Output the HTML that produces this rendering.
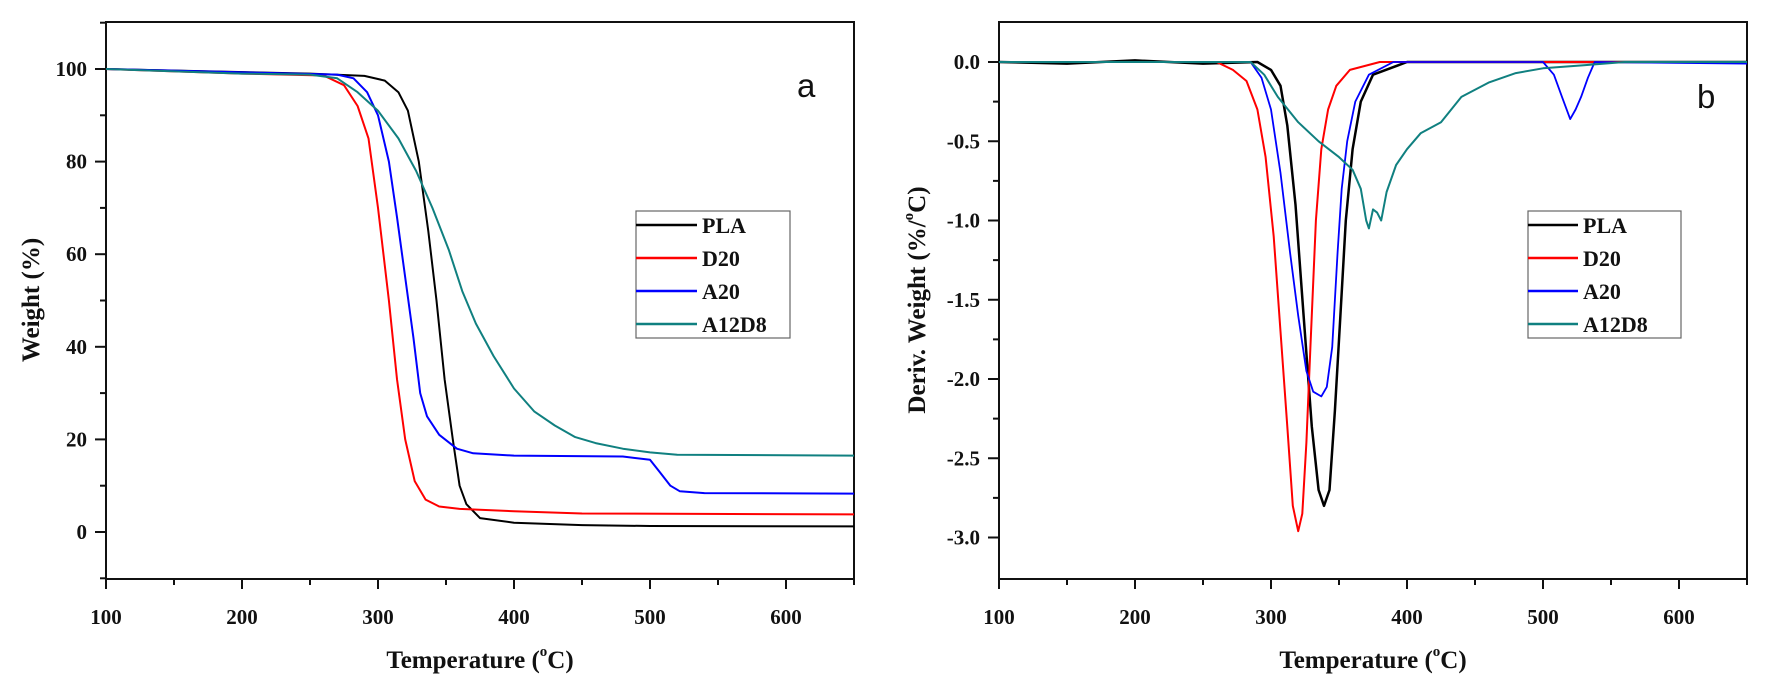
<!DOCTYPE html>
<html><head><meta charset="utf-8"><style>
html,body{margin:0;padding:0;background:#fff;}
svg{display:block;}
text{font-family:"Liberation Serif",serif;font-weight:bold;fill:#111;}
</style></head><body>
<svg id="s" width="1769" height="682" xmlns="http://www.w3.org/2000/svg"></svg>
<script>
const S=document.getElementById('s');let h='';
function X(t,o){return o+(t-100)*1.36;}
const L={x0:106,x1:854,y0:22,y1:579};
const R={x0:999,x1:1747,y0:22,y1:579};
function YL(w){return 532-4.63*w;}
function YR(d){return 62-158.5*d;}
function axes(P,off,yt,yfn){
 h+=`<rect x="${P.x0}" y="${P.y0}" width="${P.x1-P.x0}" height="${P.y1-P.y0}" fill="none" stroke="#111" stroke-width="2"/>`;
 for(let t=100;t<=650;t+=50){let x=X(t,off);h+=`<line x1="${x}" y1="${P.y1}" x2="${x}" y2="${P.y1+(t%100==0?10:6)}" stroke="#111" stroke-width="2"/>`;
  if(t%100==0&&t<=600)h+=`<text x="${x}" y="624" font-size="21" text-anchor="middle">${t}</text>`;}
 yt.forEach(([v,lab,maj])=>{let y=yfn(v);h+=`<line x1="${P.x0-(maj?11:6)}" y1="${y}" x2="${P.x0}" y2="${y}" stroke="#111" stroke-width="2"/>`;
  if(maj)h+=`<text x="${P.x0-19}" y="${y+7}" font-size="21" text-anchor="end">${lab}</text>`;});
}
let ytl=[];for(let v=-10;v<=110;v+=10)ytl.push([v,v,v%20==0]);
axes(L,106,ytl,YL);
let ytr=[];for(let i=-6;i<=0;i++){let v=i*0.5;ytr.push([v,v.toFixed(1),true]);}
for(let i=-6;i<0;i++)ytr.push([i*0.5+0.25,'',false]);
axes(R,999,ytr,YR);
function line(pts,off,yfn,col,w){h+=`<polyline fill="none" stroke="${col}" stroke-width="${w}" stroke-linejoin="round" points="${pts.map(p=>X(p[0],off).toFixed(1)+','+yfn(p[1]).toFixed(1)).join(' ')}"/>`;}
const C={k:'#000',r:'#ff0000',b:'#0000ff',g:'#108080'};
line([[100,100],[250,99],[290,98.5],[305,97.5],[315,95],[322,91],[330,80],[337,65],[343,50],[349,33],[355,20],[360,10],[365,6],[375,3],[400,2],[450,1.5],[500,1.3],[650,1.2]],106,YL,C.k,2);
line([[100,100],[200,99],[260,98.6],[275,96.5],[285,92],[293,85],[300,70],[308,50],[314,33],[320,20],[327,11],[335,7],[345,5.5],[360,5],[400,4.5],[450,4],[650,3.8]],106,YL,C.r,2);
line([[100,100],[270,98.8],[282,98],[292,95],[300,90],[308,80],[314,68],[320,55],[326,42],[331,30],[336,25],[345,21],[358,18],[370,17],[400,16.5],[480,16.3],[500,15.6],[507,13],[515,10],[522,8.8],[540,8.4],[650,8.3]],106,YL,C.b,2);
line([[100,100],[200,99],[250,98.8],[270,98],[285,95],[300,91],[315,85],[328,78],[340,70],[352,61],[362,52],[372,45],[385,38],[400,31],[415,26],[430,23],[445,20.5],[460,19.2],[480,18],[500,17.2],[520,16.7],[650,16.5]],106,YL,C.g,2);
line([[100,0],[150,-0.01],[200,0.01],[250,-0.01],[290,0],[300,-0.05],[307,-0.15],[312,-0.4],[318,-0.9],[324,-1.6],[330,-2.3],[335,-2.7],[339,-2.8],[343,-2.7],[347,-2.2],[351,-1.6],[355,-1.0],[360,-0.55],[366,-0.25],[375,-0.08],[400,0],[650,0]],999,YR,C.k,2.5);
line([[100,0],[260,0],[272,-0.05],[282,-0.12],[290,-0.3],[296,-0.6],[302,-1.1],[307,-1.7],[312,-2.3],[316,-2.8],[320,-2.96],[323,-2.85],[326,-2.4],[329,-1.8],[333,-1.0],[337,-0.55],[342,-0.3],[348,-0.15],[358,-0.05],[380,0],[650,0]],999,YR,C.r,2);
line([[100,0],[285,0],[293,-0.1],[300,-0.3],[307,-0.7],[314,-1.2],[320,-1.6],[326,-1.95],[331,-2.08],[337,-2.11],[341,-2.05],[345,-1.8],[349,-1.2],[352,-0.8],[356,-0.5],[362,-0.25],[372,-0.08],[390,0],[500,0],[508,-0.08],[514,-0.22],[520,-0.36],[524,-0.3],[528,-0.22],[533,-0.1],[538,0],[650,-0.01]],999,YR,C.b,1.8);
line([[100,0],[285,0],[295,-0.08],[305,-0.22],[320,-0.38],[335,-0.5],[350,-0.6],[360,-0.68],[366,-0.8],[370,-1.0],[372,-1.05],[375,-0.93],[378,-0.95],[381,-1.0],[385,-0.82],[392,-0.65],[400,-0.55],[410,-0.45],[425,-0.38],[440,-0.22],[460,-0.13],[480,-0.07],[500,-0.04],[530,-0.02],[560,0],[650,0]],999,YR,C.g,2);
function legend(x0,x1,y0,y1,ll){
 h+=`<rect x="${x0}" y="${y0}" width="${x1-x0}" height="${y1-y0}" fill="#fff" stroke="#666" stroke-width="1.2"/>`;
 const it=[['PLA',C.k],['D20',C.r],['A20',C.b],['A12D8',C.g]];
 it.forEach((e,i)=>{let y=y0+14+i*33;h+=`<line x1="${x0}" y1="${y}" x2="${x0+ll}" y2="${y}" stroke="${e[1]}" stroke-width="2.5"/><text x="${x0+ll+5}" y="${y+8}" font-size="22">${e[0]}</text>`;});
}
legend(636,790,211,338,61);
legend(1528,1681,211,338,50);
h+=`<text x="797" y="97" font-size="33" style="font-family:'Liberation Sans',sans-serif;font-weight:normal">a</text>`;
h+=`<text x="1697" y="108" font-size="33" style="font-family:'Liberation Sans',sans-serif;font-weight:normal">b</text>`;
h+=`<text x="480" y="668" font-size="25" text-anchor="middle">Temperature (<tspan font-size="15" dy="-12">o</tspan><tspan dy="12">C)</tspan></text>`;
h+=`<text x="1373" y="668" font-size="25" text-anchor="middle">Temperature (<tspan font-size="15" dy="-12">o</tspan><tspan dy="12">C)</tspan></text>`;
h+=`<text transform="translate(39,300) rotate(-90)" font-size="25" text-anchor="middle">Weight (%)</text>`;
h+=`<text transform="translate(925,300) rotate(-90)" font-size="25" text-anchor="middle">Deriv. Weight (%/<tspan font-size="15" dy="-12">o</tspan><tspan dy="12">C)</tspan></text>`;
S.innerHTML=h;
</script>
</body></html>
